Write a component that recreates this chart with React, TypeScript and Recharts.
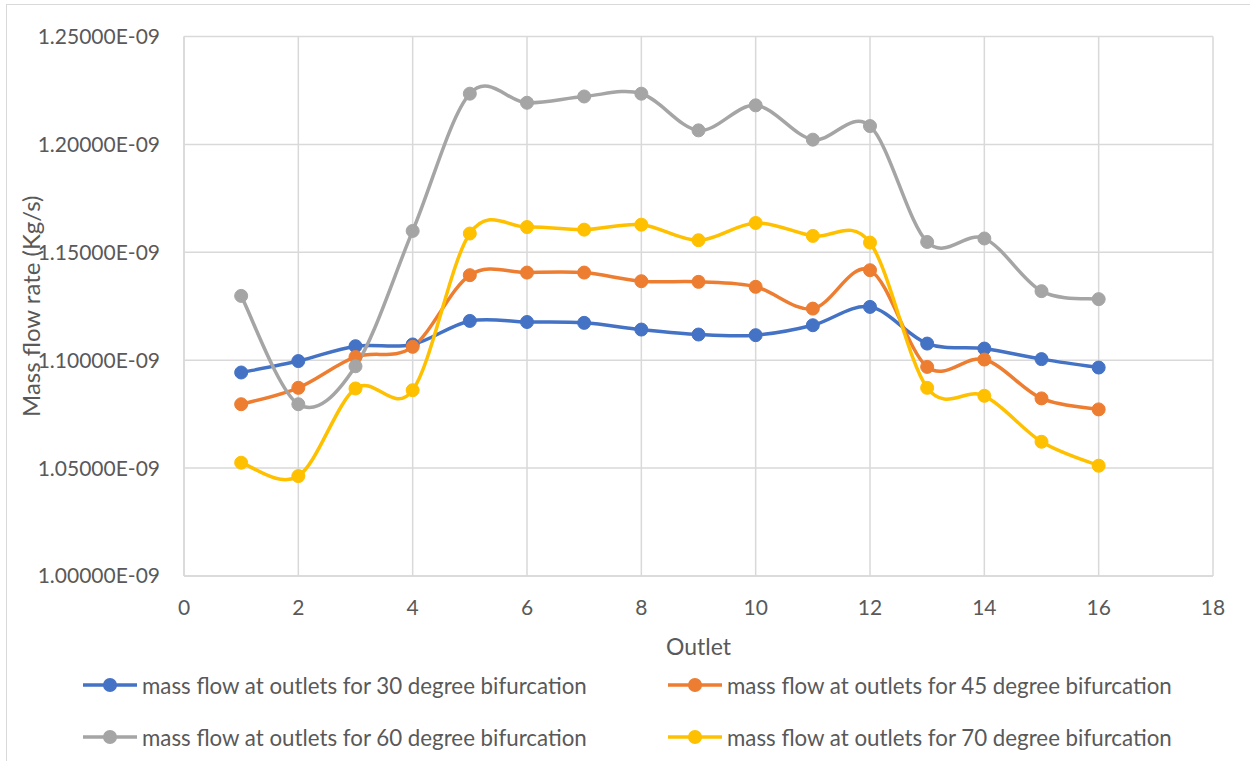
import React from 'react';
import {
  LineChart,
  Line,
  XAxis,
  YAxis,
  CartesianGrid,
  Legend,
} from 'recharts';

// Outlet numbers along the x axis
const outlets = [1, 2, 3, 4, 5, 6, 7, 8, 9, 10, 11, 12, 13, 14, 15, 16];

// Mass flow rate (kg/s) at each outlet, per bifurcation angle
const flow30 = [
  1.0943e-9, 1.0996e-9, 1.1065e-9, 1.1073e-9, 1.1182e-9, 1.1177e-9, 1.1173e-9, 1.1142e-9,
  1.1119e-9, 1.1116e-9, 1.1162e-9, 1.1247e-9, 1.1077e-9, 1.1054e-9, 1.1005e-9, 1.0966e-9,
];
const flow45 = [
  1.0796e-9, 1.0872e-9, 1.1015e-9, 1.1062e-9, 1.1394e-9, 1.1406e-9, 1.1406e-9, 1.1366e-9,
  1.1363e-9, 1.134e-9, 1.1239e-9, 1.1417e-9, 1.0969e-9, 1.1003e-9, 1.0823e-9, 1.0772e-9,
];
const flow60 = [
  1.1298e-9, 1.0796e-9, 1.0972e-9, 1.1599e-9, 1.2235e-9, 1.2193e-9, 1.2222e-9, 1.2235e-9,
  1.2065e-9, 1.2181e-9, 1.2022e-9, 1.2085e-9, 1.1548e-9, 1.1564e-9, 1.132e-9, 1.1283e-9,
];
const flow70 = [
  1.0525e-9, 1.0463e-9, 1.0869e-9, 1.0861e-9, 1.1587e-9, 1.1617e-9, 1.1605e-9, 1.1628e-9,
  1.1556e-9, 1.1636e-9, 1.1576e-9, 1.1545e-9, 1.0872e-9, 1.0835e-9, 1.0622e-9, 1.0511e-9,
];

const xTicks = [0, 2, 4, 6, 8, 10, 12, 14, 16, 18];
const yTicks = [1.0e-9, 1.05e-9, 1.1e-9, 1.15e-9, 1.2e-9, 1.25e-9];

const seriesNames = [
  'mass flow at outlets for 30 degree bifurcation',
  'mass flow at outlets for 45 degree bifurcation',
  'mass flow at outlets for 60 degree bifurcation',
  'mass flow at outlets for 70 degree bifurcation',
];
const seriesKeys = ['s30', 's45', 's60', 's70'];
const seriesColors = ['#4472C4', '#ED7D31', '#A5A5A5', '#FFC000'];

const rows = outlets.map((o, i) => ({
  outlet: o,
  s30: flow30[i],
  s45: flow45[i],
  s60: flow60[i],
  s70: flow70[i],
}));

const FONT = 'Lato, "Open Sans", sans-serif';
const TEXT = '#595959';
const GRID = '#D9D9D9';

// Scientific notation with a two-digit exponent, e.g. 1.25000E-09
const sci = (v: number) => {
  const [m, e] = v.toExponential(5).split('e');
  const n = Number(e);
  const sign = n < 0 ? '-' : '+';
  return `${m}E${sign}${String(Math.abs(n)).padStart(2, '0')}`;
};

// Smoothed line: cubic Bezier segments with Catmull-Rom style control points
const smoothCurve = (context: any) => {
  let pts: [number, number][] = [];
  return {
    areaStart() {},
    areaEnd() {},
    lineStart() {
      pts = [];
    },
    point(x: number, y: number) {
      pts.push([+x, +y]);
    },
    lineEnd() {
      const n = pts.length;
      if (!n) return;
      context.moveTo(pts[0][0], pts[0][1]);
      for (let i = 0; i < n - 1; i++) {
        const p0 = pts[i - 1] || pts[i];
        const p1 = pts[i];
        const p2 = pts[i + 1];
        const p3 = pts[i + 2] || p2;
        const c1x = p1[0] + (p2[0] - p0[0]) / 6;
        const c1y = p1[1] + (p2[1] - p0[1]) / 6;
        const c2x = p2[0] - (p3[0] - p1[0]) / 6;
        const c2y = p2[1] - (p3[1] - p1[1]) / 6;
        context.bezierCurveTo(c1x, c1y, c2x, c2y, p2[0], p2[1]);
      }
    },
  };
};

const LegendBlock = () => {
  const cols = [83, 668];
  const rowsY = [685, 737];
  return (
    <div style={{ position: 'relative', width: 0, height: 0 }}>
      {seriesNames.map((name, i) => {
        const left = cols[i % 2];
        const top = rowsY[Math.floor(i / 2)];
        return (
          <div
            key={name}
            style={{
              position: 'absolute',
              left,
              top: top - 15,
              height: 30,
              display: 'flex',
              alignItems: 'center',
              whiteSpace: 'nowrap',
            }}
          >
            <svg width={54} height={30} style={{ display: 'block' }}>
              <line x1={0} y1={15} x2={54} y2={15} stroke={seriesColors[i]} strokeWidth={3.5} />
              <circle cx={27} cy={15} r={7} fill={seriesColors[i]} />
            </svg>
            <span
              style={{
                marginLeft: 5,
                fontFamily: FONT,
                fontSize: 22.3,
                color: TEXT,
              }}
            >
              {name}
            </span>
          </div>
        );
      })}
    </div>
  );
};

const YTitle = (props: any) => {
  const vb = props.viewBox || {};
  const cy = vb.y + vb.height / 2;
  return (
    <text
      x={30}
      y={cy}
      transform={`rotate(-90 30 ${cy})`}
      textAnchor="middle"
      dominantBaseline="central"
      fill={TEXT}
      fontFamily={FONT}
      fontSize={24}
    >
      Mass flow rate (Kg/s)
    </text>
  );
};

const XTitle = (props: any) => {
  const vb = props.viewBox || {};
  const cx = vb.x + vb.width / 2;
  return (
    <text
      x={cx}
      y={646}
      textAnchor="middle"
      dominantBaseline="central"
      fill={TEXT}
      fontFamily={FONT}
      fontSize={23}
    >
      Outlet
    </text>
  );
};

export default function App() {
  return (
    <div
      style={{
        position: 'absolute',
        left: 0,
        top: 0,
        width: 1250,
        height: 761,
        background: '#fff',
        overflow: 'hidden',
      }}
    >
      <div
        style={{
          position: 'absolute',
          left: 6,
          top: 4,
          width: 1260,
          height: 780,
          borderLeft: `1.5px solid ${GRID}`,
          borderTop: `1.5px solid ${GRID}`,
        }}
      />
      <LineChart
        width={1250}
        height={761}
        data={rows}
        margin={{ top: 36.5, right: 37, bottom: 0, left: 0 }}
      >
        <CartesianGrid stroke={GRID} strokeWidth={1.5} />
        <XAxis
          dataKey="outlet"
          type="number"
          domain={[0, 18]}
          ticks={xTicks}
          height={185}
          tickLine={false}
          tickSize={0}
          tickMargin={24}
          axisLine={{ stroke: GRID, strokeWidth: 1.5 }}
          tick={{ fill: TEXT, fontFamily: FONT, fontSize: 21 }}
          label={<XTitle />}
        />
        <YAxis
          type="number"
          domain={[1.0e-9, 1.25e-9]}
          ticks={yTicks}
          width={184}
          tickLine={false}
          tickSize={0}
          tickMargin={24}
          axisLine={{ stroke: GRID, strokeWidth: 1.5 }}
          tickFormatter={sci}
          tick={{ fill: TEXT, fontFamily: FONT, fontSize: 21 }}
          label={<YTitle />}
        />
        <Legend
          content={<LegendBlock />}
          wrapperStyle={{ position: 'absolute', left: 0, top: 0, width: 0, height: 0, overflow: 'visible' }}
        />
        {seriesKeys.map((k, i) => (
          <Line
            key={k}
            dataKey={k}
            name={seriesNames[i]}
            type={smoothCurve as any}
            stroke={seriesColors[i]}
            strokeWidth={3.5}
            dot={{ r: 6.5, fill: seriesColors[i], stroke: seriesColors[i], strokeWidth: 1 }}
            isAnimationActive={false}
          />
        ))}
      </LineChart>
    </div>
  );
}
